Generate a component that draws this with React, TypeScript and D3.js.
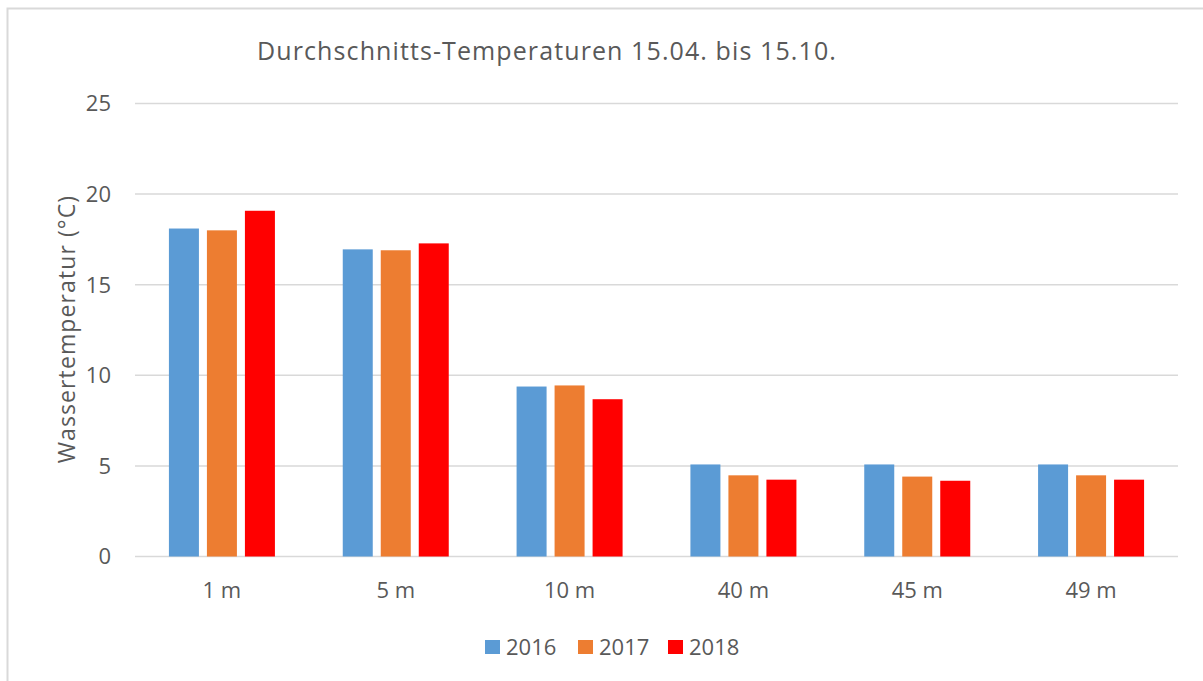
import React, { useRef, useEffect } from 'react';
import * as d3 from 'd3';

const depths = ['1 m', '5 m', '10 m', '40 m', '45 m', '49 m'];
const years = ['2016', '2017', '2018'];
const values2016 = [18.1, 16.95, 9.38, 5.08, 5.08, 5.08];
const values2017 = [18.0, 16.9, 9.44, 4.48, 4.41, 4.48];
const values2018 = [19.08, 17.28, 8.68, 4.24, 4.18, 4.24];
const yTicks = [0, 5, 10, 15, 20, 25];
const colors = ['#5b9bd5', '#ed7d31', '#ff0000'];

const W = 1203;
const H = 681;
const FONT = '"Open Sans", sans-serif';
const TEXT = '#595959';

export default function App() {
  const ref = useRef<SVGSVGElement>(null);

  useEffect(() => {
    const svg = d3.select(ref.current);
    svg.selectAll('*').remove();

    const margin = { top: 103.5, bottom: 124.5, left: 135, right: 25 };
    const width = W - margin.left - margin.right;
    const height = H - margin.top - margin.bottom;

    // chart frame
    svg.append('rect')
      .attr('x', 7.5).attr('y', 8.5)
      .attr('width', 1220).attr('height', 700)
      .attr('fill', 'white')
      .attr('stroke', '#d9d9d9')
      .attr('stroke-width', 2);

    svg.append('text')
      .attr('x', 547).attr('y', 60)
      .attr('text-anchor', 'middle')
      .style('font-family', FONT)
      .style('font-size', '25px')
      .style('letter-spacing', '1.1px')
      .attr('fill', TEXT)
      .text('Durchschnitts-Temperaturen 15.04. bis 15.10.');

    const g = svg.append('g')
      .attr('transform', 'translate(' + margin.left + ',' + margin.top + ')');

    const x = d3.scaleBand().domain(depths).range([0, width]).paddingInner(0).paddingOuter(0);
    const y = d3.scaleLinear().domain([0, 25]).range([height, 0]);

    // grid
    g.append('g')
      .selectAll('line')
      .data(yTicks)
      .join('line')
        .attr('x1', 0).attr('x2', width)
        .attr('y1', d => y(d)).attr('y2', d => y(d))
        .attr('stroke', '#d9d9d9')
        .attr('stroke-width', 1.5);

    // y tick labels
    g.append('g')
      .selectAll('text')
      .data(yTicks)
      .join('text')
        .attr('x', -24)
        .attr('y', d => y(d))
        .attr('dy', '0.36em')
        .attr('text-anchor', 'end')
        .style('font-family', FONT)
        .style('font-size', '22px')
        .attr('fill', TEXT)
        .text(d => d);

    svg.append('text')
      .attr('transform', 'translate(75,' + 329 + ') rotate(-90)')
      .attr('text-anchor', 'middle')
      .style('font-family', FONT)
      .style('font-size', '23px')
      .style('letter-spacing', '1.1px')
      .attr('fill', TEXT)
      .text('Wassertemperatur (°C)');

    const series = [values2016, values2017, values2018];
    const barW = 30;
    const gap = 8;
    const groupW = barW * 3 + gap * 2;
    const x1 = d3.scaleBand().domain(years).range([0, groupW]).paddingInner(gap / (barW + gap));

    series.forEach((vals, s) => {
      g.append('g')
        .attr('fill', colors[s])
        .selectAll('rect')
        .data(vals)
        .join('rect')
          .attr('x', (d, i) => x(depths[i])! + (x.bandwidth() - groupW) / 2 + x1(years[s])!)
          .attr('y', d => y(d))
          .attr('width', x1.bandwidth())
          .attr('height', d => y(0) - y(d));
    });

    // category labels
    g.append('g')
      .selectAll('text')
      .data(depths)
      .join('text')
        .attr('x', d => x(d)! + x.bandwidth() / 2)
        .attr('y', height + 41)
        .attr('text-anchor', 'middle')
        .style('font-family', FONT)
        .style('font-size', '22px')
        .attr('fill', TEXT)
        .text(d => d);

    // legend
    const legendX = [485, 578, 668];
    const lg = svg.append('g');
    years.forEach((yr, i) => {
      lg.append('rect')
        .attr('x', legendX[i]).attr('y', 640)
        .attr('width', 15).attr('height', 14)
        .attr('fill', colors[i]);
      lg.append('text')
        .attr('x', legendX[i] + 21).attr('y', 655)
        .style('font-family', FONT)
        .style('font-size', '22px')
        .attr('fill', TEXT)
        .text(yr);
    });
  }, []);

  return (
    <div style={{ position: 'absolute', left: 0, top: 0, width: W, height: H, overflow: 'hidden' }}>
      <svg ref={ref} width={W} height={H}></svg>
    </div>
  );
}
